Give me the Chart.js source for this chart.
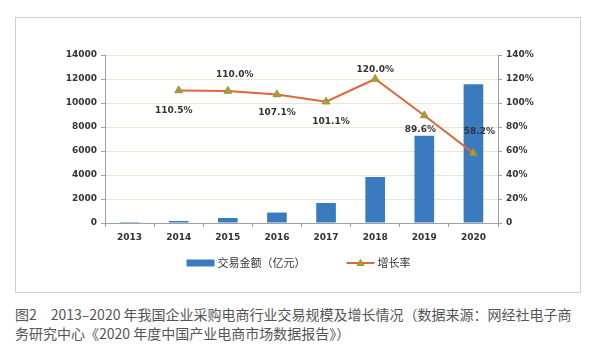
<!DOCTYPE html>
<html><head><meta charset="utf-8">
<script src="https://cdn.jsdelivr.net/npm/chart.js@4"></script>
<style>
html,body{margin:0;padding:0;background:#fff;width:608px;height:356px;overflow:hidden}
#box{position:absolute;left:15px;top:17px;width:564px;height:274px;border:1px solid #cfcfcf}
#c{position:absolute;left:0;top:0}
#cap{position:absolute;left:15px;top:305px;font-family:"Noto Sans CJK SC";font-size:14px;line-height:19px;color:#555;white-space:nowrap}
</style></head><body>
<div id="box"></div>
<canvas id="c" width="608" height="300"></canvas>
<div id="cap">图2　2013–2020 年我国企业采购电商行业交易规模及增长情况（数据来源：网经社电子商<br>务研究中心《2020 年度中国产业电商市场数据报告》）</div>
<script>
const years = ['2013','2014','2015','2016','2017','2018','2019','2020'];
const amount = [80, 167, 420, 870, 1670, 3840, 7265, 11560];
const growth = [null, 110.5, 110.0, 107.1, 101.1, 120.0, 89.6, 58.2];
const leftTickLabels = ['0','2000','4000','6000','8000','10000','12000','14000'];
const rightTickLabels = ['0','20%','40%','60%','80%','100%','120%','140%'];
const seriesNames = ['交易金额（亿元）','增长率'];

const BAR = '#3a7bbf', LINE = '#e0673c', MK = '#b09a38', MKB = '#8c9a34';
const tickFont = {family:'DejaVu Sans', size:9, weight:'bold'};
const labelOffsets = [null,[-5,20],[7,-16],[0,18],[5,20],[0,-9],[-4,14],[6,-22]];

const pointLabels = {
  id:'pointLabels',
  afterDatasetsDraw(chart){
    const ctx = chart.ctx, meta = chart.getDatasetMeta(1);
    ctx.save();
    ctx.font = 'bold 9px "DejaVu Sans"';
    ctx.fillStyle = '#333';
    ctx.textAlign = 'center'; ctx.textBaseline = 'middle';
    growth.forEach((v,i)=>{
      if (v==null) return;
      const p = meta.data[i], o = labelOffsets[i];
      ctx.fillText(v.toFixed(1)+'%', p.x+o[0], p.y+o[1]);
    });
    ctx.restore();
  }
};

const customLegend = {
  id:'customLegend',
  afterDraw(chart){
    const ctx = chart.ctx, a = chart.chartArea;
    ctx.save();
    ctx.font = '11px "Noto Sans CJK SC"';
    const w1 = ctx.measureText(seriesNames[0]).width, w2 = ctx.measureText(seriesNames[1]).width;
    const sw = 28, gap = 3, between = 41;
    const total = sw+gap+w1+between+sw+gap+w2;
    let x = (a.left+a.right)/2 - 3 - total/2;
    const y = a.bottom + 40;
    ctx.fillStyle = BAR; ctx.fillRect(x, y-3.5, sw, 7);
    x += sw+gap;
    ctx.fillStyle = '#333'; ctx.textBaseline = 'middle'; ctx.textAlign = 'left';
    ctx.fillText(seriesNames[0], x, y);
    x += w1+between;
    ctx.strokeStyle = LINE; ctx.lineWidth = 2;
    ctx.beginPath(); ctx.moveTo(x, y); ctx.lineTo(x+sw, y); ctx.stroke();
    const cx = x+sw/2;
    ctx.fillStyle = MK; ctx.strokeStyle = MKB; ctx.lineWidth = 1;
    ctx.beginPath(); ctx.moveTo(cx, y-3.5); ctx.lineTo(cx+3.5, y+2.5); ctx.lineTo(cx-3.5, y+2.5); ctx.closePath(); ctx.fill(); ctx.stroke();
    x += sw+gap;
    ctx.fillStyle = '#333';
    ctx.fillText(seriesNames[1], x, y);
    ctx.restore();
  }
};

new Chart(document.getElementById('c'), {
  data:{
    labels: years,
    datasets:[
      {type:'bar', label:seriesNames[0], data:amount, yAxisID:'y', backgroundColor:BAR,
       barPercentage:0.8, categoryPercentage:0.5, order:2},
      {type:'line', label:seriesNames[1], data:growth, yAxisID:'y1', borderColor:LINE, borderWidth:2,
       pointStyle:'triangle', pointRadius:4.5, pointBackgroundColor:MK, pointBorderColor:MKB, pointBorderWidth:1,
       tension:0, order:1}
    ]
  },
  options:{
    responsive:false, devicePixelRatio:1, animation:false,
    layout:{padding:{top:55,left:0,right:0,bottom:0}},
    plugins:{legend:{display:false}, tooltip:{enabled:false}},
    scales:{
      x:{
        grid:{offset:true, drawOnChartArea:false, drawTicks:true, tickLength:4, color:'#a0a0a0'},
        border:{color:'#a0a0a0'},
        ticks:{font:tickFont, color:'#333', padding:5},
        afterFit(s){ s.height = 77; }
      },
      y:{
        position:'left', min:0, max:14000,
        grid:{color:'#ebe6d2', tickColor:'#a0a0a0', tickLength:4},
        border:{color:'#a0a0a0'},
        ticks:{stepSize:2000, font:tickFont, color:'#333', padding:4,
               callback:(v,i)=>leftTickLabels[i]},
        afterFit(s){ s.width = 105; }
      },
      y1:{
        position:'right', min:0, max:140,
        grid:{drawOnChartArea:false, tickColor:'#a0a0a0', tickLength:4},
        border:{color:'#a0a0a0'},
        ticks:{stepSize:20, font:tickFont, color:'#333', padding:4,
               callback:(v,i)=>rightTickLabels[i]},
        afterFit(s){ s.width = 110; }
      }
    }
  },
  plugins:[pointLabels, customLegend]
});
</script>
</body></html>
